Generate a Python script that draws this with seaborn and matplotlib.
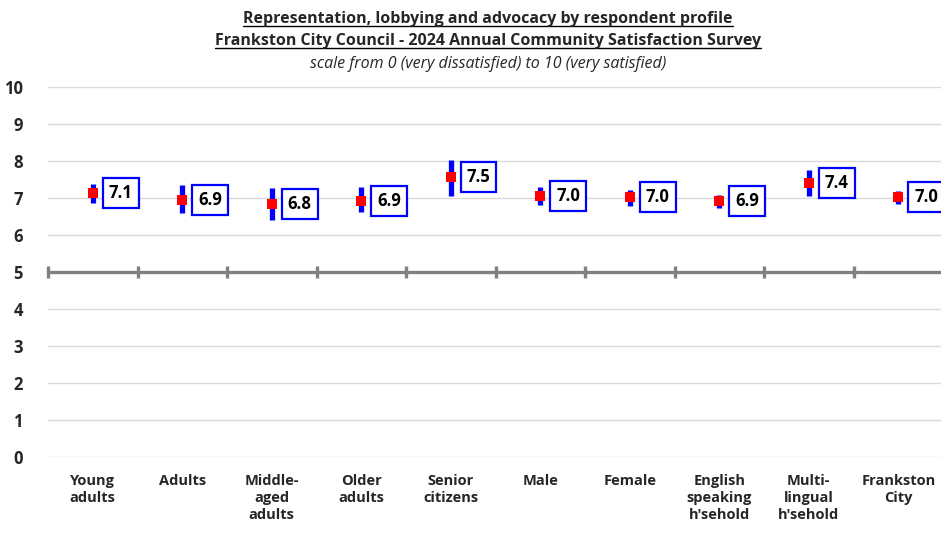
import numpy as np
import pandas as pd
import seaborn as sns
import matplotlib.pyplot as plt
from matplotlib.lines import Line2D

groups = ["Young\nadults", "Adults", "Middle-\naged\nadults", "Older\nadults", "Senior\ncitizens",
          "Male", "Female", "English\nspeaking\nh'sehold", "Multi-\nlingual\nh'sehold", "Frankston\nCity"]
means = [7.14, 6.95, 6.84, 6.92, 7.56, 7.05, 7.02, 6.91, 7.41, 7.02]
lower = [6.86, 6.59, 6.41, 6.62, 7.06, 6.82, 6.78, 6.72, 7.06, 6.84]
upper = [7.38, 7.35, 7.27, 7.30, 8.03, 7.29, 7.22, 7.09, 7.76, 7.18]
labels = ["7.1", "6.9", "6.8", "6.9", "7.5", "7.0", "7.0", "6.9", "7.4", "7.0"]

df = pd.DataFrame({"group": groups, "mean": means, "lower": lower, "upper": upper, "label": labels})
df["x"] = np.arange(len(df))

sns.set_theme(style="white")
plt.rcParams['font.family'] = ['Open Sans', 'DejaVu Sans']

fig = plt.figure(figsize=(9.41, 5.34), dpi=100)
ax = fig.add_axes([48/941, 1-457/534, 895/941, 370/534])

# gridlines
ax.set_ylim(0, 10)
ax.set_xlim(-0.5, 9.5)
ax.set_yticks(range(11))
ax.yaxis.grid(True, color='#d9d9d9', lw=1)
ax.set_axisbelow(True)
for s in ax.spines.values():
    s.set_visible(False)

# midpoint line with category dividers
ax.axhline(5, color='#808080', lw=2.4, zorder=2)
ax.plot(np.arange(-0.5, 10, 1), [5]*11, ls='none', marker='|', ms=9, mew=2.4,
        color='#808080', zorder=2, clip_on=False)

# CI bars and means
ax.vlines(df["x"], df["lower"], df["upper"], color='#0000ff', lw=3.8, zorder=3)
sns.scatterplot(data=df, x="x", y="mean", marker='s', s=50, color='#ff0000',
                edgecolor='none', linewidth=0, zorder=4, ax=ax, legend=False)

for _, r in df.iterrows():
    ax.annotate(r["label"], (r["x"], r["mean"]), xytext=(11.5, 0), textcoords='offset points',
                ha='left', va='center', fontsize=12, fontweight='bold', color='black',
                bbox=dict(boxstyle='square,pad=0.36', fc='white', ec='#0000ff', lw=1.6),
                zorder=5, annotation_clip=False)

ax.set_xticks(df["x"])
ax.set_xticklabels(df["group"], fontsize=10.5, fontweight='bold', linespacing=1.3, va='top')
ax.tick_params(axis='x', length=0, pad=12)
ax.tick_params(axis='y', length=0, pad=18, labelsize=12)
for t in ax.get_yticklabels():
    t.set_fontweight('bold')
ax.set_xlabel("")
ax.set_ylabel("")

# titles
cx = 488 / 941
t1 = fig.text(cx, 1-23/534, "Representation, lobbying and advocacy by respondent profile",
              ha='center', va='baseline', fontsize=11.5, fontweight='bold')
t2 = fig.text(cx, 1-45/534, "Frankston City Council - 2024 Annual Community Satisfaction Survey",
              ha='center', va='baseline', fontsize=11.5, fontweight='bold')
fig.text(cx, 1-68/534, "scale from 0 (very dissatisfied) to 10 (very satisfied)",
         ha='center', va='baseline', fontsize=11.5, style='italic')

renderer = fig.canvas.get_renderer()
for t, yb in [(t1, 23), (t2, 45)]:
    bb = t.get_window_extent(renderer)
    yl = 1 - (yb + 2.5) / 534
    fig.add_artist(Line2D([bb.x0/941, bb.x1/941], [yl, yl], color='black', lw=1,
                          transform=fig.transFigure))

fig.savefig("out.png", dpi=100)
